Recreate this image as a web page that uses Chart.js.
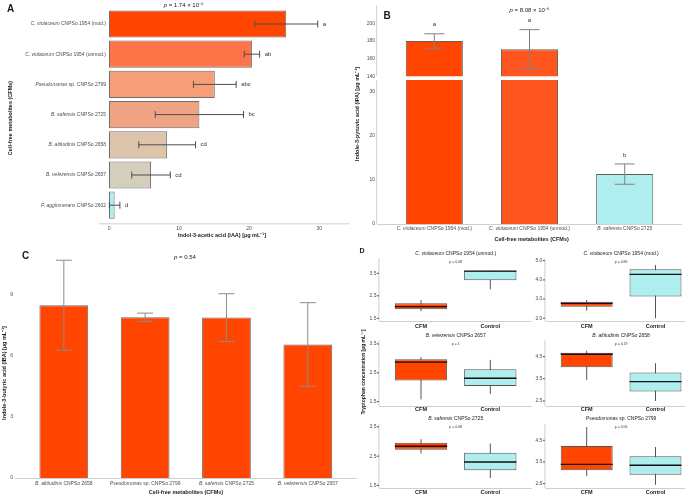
<!DOCTYPE html>
<html>
<head>
<meta charset="utf-8">
<script src="https://cdn.jsdelivr.net/npm/chart.js@4.4.0/dist/chart.umd.min.js"></script>
<style>
  body { margin: 0; background: #fff; }
  #fig { position: relative; width: 685px; height: 497px; overflow: hidden; background: #fff;
         font-family: "Liberation Sans", Arial, sans-serif; color: #1a1a1a; }
  #plots canvas { position: absolute; }
  .t { position: absolute; white-space: nowrap; transform: translate(-50%, -50%); line-height: 1; }
  .rot { transform: translate(-50%, -50%) rotate(-90deg); }
  .ttl { font-weight: bold; font-size: 5.5px; }
  .pv { font-size: 6px; }
  .lab { font-weight: bold; font-size: 10px; }
</style>
</head>
<body>
<div id="fig">
  <div id="plots"></div>

  <div class="t lab" style="left:10.5px; top:9px;">A</div>
  <div class="t lab" style="left:387px; top:15.5px;">B</div>
  <div class="t lab" style="left:25.5px; top:255.5px;">C</div>
  <div class="t lab" style="left:362px; top:250px; font-size:7px;">D</div>

  <div class="t pv" style="left:183.6px; top:5px;"><i>p</i> = 1.74 × 10⁻⁵</div>
  <div class="t pv" style="left:529.5px; top:10px;"><i>p</i> = 8.08 × 10⁻⁶</div>
  <div class="t pv" style="left:185px; top:257.3px;"><i>p</i> = 0.54</div>

  <div class="t ttl rot" style="left:10.8px; top:117.5px;">Cell-free metabolites (CFMs)</div>
  <div class="t ttl" style="left:222px; top:236px;">Indol-3-acetic acid (IAA) [µg mL⁻¹]</div>
  <div class="t ttl rot" style="left:358px; top:113.5px;">Indole-3-pyruvic acid (IPA) [µg mL⁻¹]</div>
  <div class="t ttl" style="left:531.7px; top:240px;">Cell-free metabolites (CFMs)</div>
  <div class="t ttl rot" style="left:5px; top:373px;">Indole-3-butyric acid (IBA) [µg mL⁻¹]</div>
  <div class="t ttl" style="left:186px; top:493.3px;">Cell-free metabolites (CFMs)</div>
  <div class="t ttl rot" style="left:363px; top:372px; font-size:5px;">Tryptophan concentration [µg mL⁻¹]</div>
</div>

<script>
// ---- data ----
// A: IAA
const aNames = ['C. violaceum CNPSo 1954 (mod.)', 'C. violaceum CNPSo 1954 (unmod.)', 'Pseudomonas sp. CNPSo 2799',
  'B. safensis CNPSo 2725', 'B. altitudinis CNPSo 2658', 'B. velezensis CNPSo 2657', 'P. agglomerans CNPSo 2602'];
const aMean = [25.3, 20.4, 15.1, 12.9, 8.3, 6.0, 0.8];
const aErr = [4.5, 1.1, 3.05, 6.3, 4.05, 2.75, 0.75];
const aLetters = ['a', 'ab', 'abc', 'bc', 'cd', 'cd', 'd'];
const aTicks = [0, 10, 20, 30];

// B: IPA (broken axis)
const bNames = ['C. violaceum CNPSo 1954 (mod.)', 'C. violaceum CNPSo 1954 (unmod.)', 'B. safensis CNPSo 2725'];
const bMean = [180.1, 170.8, 11.3];
const bErr = [8.2, 22.2, 2.3];
const bLetters = ['a', 'a', 'b'];
const bTicksHigh = [140, 160, 180, 200];
const bTicksLow = [0, 10, 20, 30];

// C: IBA
const cNames = ['B. altitudinis CNPSo 2658', 'Pseudomonas sp. CNPSo 2799', 'B. safensis CNPSo 2725', 'B. velezensis CNPSo 2657'];
const cMean = [8.47, 7.88, 7.86, 6.54];
const cErr = [2.2, 0.2, 1.17, 2.05];
const cTicks = [0, 3, 6, 9];

// D: tryptophan boxplots, [min, q1, median, q3, max]
const dTitles = ['C. violaceum CNPSo 1954 (unmod.)', 'C. violaceum CNPSo 1954 (mod.)', 'B. velezensis CNPSo 2657',
  'B. altitudinis CNPSo 2658', 'B. safensis CNPSo 2725', 'Pseudomonas sp. CNPSo 2799'];
const dGroups = ['CFM', 'Control'];
const dP = ['p = 0.08', 'p = 0.86', 'p = 1', 'p = 0.19', 'p = 0.08', 'p = 0.56'];
const dCfm = [
  [1.82, 1.90, 2.02, 2.17, 2.31],
  [2.40, 2.60, 2.78, 2.86, 2.95],
  [1.58, 2.23, 2.87, 2.97, 3.04],
  [3.45, 4.02, 4.61, 4.68, 4.77],
  [2.59, 2.72, 2.84, 2.96, 3.08],
  [2.85, 3.12, 3.39, 4.24, 5.11]
];
const dControl = [
  [2.79, 3.19, 3.60, 3.62, 3.62],
  [2.00, 3.13, 4.29, 4.55, 4.78],
  [1.77, 2.04, 2.31, 2.62, 2.95],
  [2.50, 2.92, 3.37, 3.78, 4.20],
  [1.75, 2.02, 2.30, 2.62, 2.93],
  [2.45, 2.91, 3.35, 3.76, 4.19]
];
const dTicks = [[1.5, 2.5, 3.5], [2.0, 3.0, 4.0, 5.0], [1.5, 2.5, 3.5], [2.5, 3.5, 4.5], [1.5, 2.5, 3.5], [2.5, 3.5, 4.5]];

// ---- styles ----
const aColors = ['#FF4500', '#FD7448', '#F59E78', '#EFA382', '#DDC4AA', '#D4CEBD', '#AEEEEE'];
const bColors = ['#FF4500', '#FF5620', '#AEEEEE'];
const ORANGE = '#FF4500', CYAN = '#AEEEEE';
const FONT = '"Liberation Sans", Arial, sans-serif';
const TICK = '#4d4d4d', AXIS = '#cfcfcf';

Chart.defaults.font.family = FONT;
Chart.defaults.color = TICK;
Chart.defaults.animation = false;
Chart.defaults.events = [];
Chart.defaults.plugins.legend.display = false;
Chart.defaults.plugins.tooltip.enabled = false;

function makeCanvas(x, y, w, h) {
  const c = document.createElement('canvas');
  c.width = w; c.height = h;
  c.style.left = x + 'px'; c.style.top = y + 'px';
  c.style.width = w + 'px'; c.style.height = h + 'px';
  document.getElementById('plots').appendChild(c);
  return c;
}
const fixedTicks = vals => s => { s.ticks = vals.map(v => ({ value: v })); };
const fixW = w => s => { s.width = w; };
const fixH = h => s => { s.height = h; };
// invisible tick marks used only as a gap between axis and labels
const gap = len => ({ display: false, drawTicks: true, tickLength: len });

// species part italic, strain part upright
function nameParts(name) {
  let k = name.indexOf(' sp.');
  if (k < 0) k = name.indexOf(' CNPSo');
  return [[name.slice(0, k), true], [name.slice(k), false]];
}
function drawName(ctx, name, x, y, align, size, color) {
  const parts = nameParts(name);
  const font = it => (it ? 'italic ' : '') + size + 'px ' + FONT;
  let w = 0;
  parts.forEach(p => { ctx.font = font(p[1]); w += ctx.measureText(p[0]).width; });
  let cx = align === 'right' ? x - w : align === 'center' ? x - w / 2 : x;
  ctx.save();
  ctx.fillStyle = color; ctx.textAlign = 'left'; ctx.textBaseline = 'middle';
  parts.forEach(p => { ctx.font = font(p[1]); ctx.fillText(p[0], cx, y); cx += ctx.measureText(p[0]).width; });
  ctx.restore();
}

// ggplot-like panel border: discrete axis expanded 0.6 of a step on each side
function panelAxes(opt) {
  return {
    id: 'panelAxes',
    afterDraw(chart) {
      const { ctx, chartArea: a } = chart;
      const n = chart.data.labels.length;
      let L = a.left, R = a.right, T = a.top, B = a.bottom;
      if (opt.index === 'x') { const s = (R - L) / n; L -= 0.1 * s; R += 0.1 * s; }
      else { const s = (B - T) / n; T -= 0.1 * s; B += 0.1 * s; }
      ctx.save();
      ctx.strokeStyle = AXIS; ctx.lineWidth = 1;
      ctx.beginPath();
      if (opt.bottom) { ctx.moveTo(L, B + 0.5); ctx.lineTo(R, B + 0.5); }
      if (opt.left) { ctx.moveTo(L - 0.5, T); ctx.lineTo(L - 0.5, B); }
      ctx.stroke();
      if (opt.ticks) {
        const ys = chart.scales.y;
        ctx.strokeStyle = TICK; ctx.beginPath();
        ys.ticks.forEach(t => { const y = ys.getPixelForValue(t.value); ctx.moveTo(L - 2.5, y); ctx.lineTo(L - 0.5, y); });
        ctx.stroke();
      }
      ctx.restore();
    }
  };
}

function errorBars(means, errs, opt) {
  return {
    id: 'errbars',
    afterDatasetsDraw(chart) {
      const { ctx, chartArea: a } = chart;
      const xs = chart.scales.x, ys = chart.scales.y;
      ctx.save();
      ctx.beginPath(); ctx.rect(a.left, a.top, a.right - a.left, a.bottom - a.top); ctx.clip();
      ctx.strokeStyle = opt.color; ctx.lineWidth = 1;
      means.forEach((m, i) => {
        ctx.beginPath();
        if (opt.horizontal) {
          const y = ys.getPixelForValue(i);
          const x1 = xs.getPixelForValue(m - errs[i]), x2 = xs.getPixelForValue(m + errs[i]);
          ctx.moveTo(x1, y); ctx.lineTo(x2, y);
          ctx.moveTo(x1, y - opt.cap / 2); ctx.lineTo(x1, y + opt.cap / 2);
          ctx.moveTo(x2, y - opt.cap / 2); ctx.lineTo(x2, y + opt.cap / 2);
        } else {
          const x = xs.getPixelForValue(i);
          const y1 = ys.getPixelForValue(m - errs[i]), y2 = ys.getPixelForValue(m + errs[i]);
          ctx.moveTo(x, y1); ctx.lineTo(x, y2);
          ctx.moveTo(x - opt.cap / 2, y1); ctx.lineTo(x + opt.cap / 2, y1);
          ctx.moveTo(x - opt.cap / 2, y2); ctx.lineTo(x + opt.cap / 2, y2);
        }
        ctx.stroke();
      });
      ctx.restore();
      if (!opt.letters) return;
      ctx.save();
      ctx.fillStyle = '#333'; ctx.font = '6px ' + FONT;
      opt.letters.forEach((l, i) => {
        const top = means[i] + errs[i];
        if (opt.horizontal) {
          ctx.textAlign = 'left'; ctx.textBaseline = 'middle';
          ctx.fillText(l, xs.getPixelForValue(top) + 5, ys.getPixelForValue(i));
        } else {
          const y = ys.getPixelForValue(top) - 9;
          if (y < 0 || y > chart.height) return;
          ctx.textAlign = 'center'; ctx.textBaseline = 'middle';
          ctx.fillText(l, xs.getPixelForValue(i), y);
        }
      });
      ctx.restore();
    }
  };
}

function nameLabels(names, axis, offset) {
  return {
    id: 'names',
    afterDraw(chart) {
      const a = chart.chartArea;
      names.forEach((n, i) => {
        if (axis === 'y') {
          drawName(chart.ctx, n, chart.scales.x.getPixelForValue(0) - offset, chart.scales.y.getPixelForValue(i), 'right', 5, TICK);
        } else {
          drawName(chart.ctx, n, chart.scales.x.getPixelForValue(i), a.bottom + offset, 'center', 5, TICK);
        }
      });
    }
  };
}

// ---- A ----
new Chart(makeCanvas(0, 0, 352, 245), {
  type: 'bar',
  data: { labels: aNames, datasets: [{
    data: aMean,
    backgroundColor: aColors, borderColor: '#6e6e6e', borderWidth: 1, borderSkipped: false,
    barPercentage: 0.9, categoryPercentage: 1
  }] },
  options: {
    responsive: false, devicePixelRatio: 1, indexAxis: 'y',
    layout: { padding: { top: 8.9, right: 2, left: 0, bottom: 0 } },
    scales: {
      x: { type: 'linear', min: -1.43, max: 34.4, afterBuildTicks: fixedTicks(aTicks), afterFit: fixH(24.7),
           grid: gap(5.2), border: { display: false },
           ticks: { font: { size: 5 }, padding: 0, color: TICK } },
      y: { afterFit: fixW(99), grid: gap(0), border: { display: false }, ticks: { display: false } }
    }
  },
  plugins: [panelAxes({ index: 'y', bottom: true }),
            errorBars(aMean, aErr, { horizontal: true, cap: 7, color: '#4d4d4d', letters: aLetters }),
            nameLabels(aNames, 'y', 3)]
});

// ---- B (upper segment) ----
const bDataset = () => ({
  data: bMean, backgroundColor: bColors, borderColor: '#5e5e5e', borderWidth: 1, borderSkipped: 'start',
  barPercentage: 0.6, categoryPercentage: 1
});
new Chart(makeCanvas(340, 0, 345, 80), {
  type: 'bar',
  data: { labels: bNames, datasets: [bDataset()] },
  options: {
    responsive: false, devicePixelRatio: 1,
    layout: { padding: { top: 5, right: 12.7, left: 0, bottom: 3.7 } },
    scales: {
      x: { display: false },
      y: { min: 140, max: 221, afterBuildTicks: fixedTicks(bTicksHigh), afterFit: fixW(46.7),
           grid: gap(11.7), border: { display: false },
           ticks: { font: { size: 5 }, padding: 0, color: TICK } }
    }
  },
  plugins: [panelAxes({ index: 'x', left: true }),
            errorBars(bMean, bErr, { cap: 20, color: '#808080', letters: bLetters })]
});

// ---- B (lower segment) ----
new Chart(makeCanvas(340, 76, 345, 169), {
  type: 'bar',
  data: { labels: bNames, datasets: [bDataset()] },
  options: {
    responsive: false, devicePixelRatio: 1,
    layout: { padding: { top: 4, right: 12.7, left: 0, bottom: 0 } },
    scales: {
      x: { afterFit: fixH(21), grid: gap(0), border: { display: false }, ticks: { display: false } },
      y: { min: 0, max: 32.6, afterBuildTicks: fixedTicks(bTicksLow), afterFit: fixW(46.7),
           grid: gap(11.7), border: { display: false },
           ticks: { font: { size: 5 }, padding: 0, color: TICK } }
    }
  },
  plugins: [panelAxes({ index: 'x', left: true, bottom: true }),
            errorBars(bMean, bErr, { cap: 20, color: '#808080', letters: bLetters }),
            nameLabels(bNames, 'x', 5)]
});

// ---- C ----
new Chart(makeCanvas(0, 250, 358, 247), {
  type: 'bar',
  data: { labels: cNames, datasets: [{
    data: cMean, backgroundColor: ORANGE, borderColor: '#6e6e6e', borderWidth: 1, borderSkipped: 'start',
    barPercentage: 0.6, categoryPercentage: 1
  }] },
  options: {
    responsive: false, devicePixelRatio: 1,
    layout: { padding: { top: 3.5, right: 9.55, left: 0, bottom: 0 } },
    scales: {
      x: { afterFit: fixH(19), grid: gap(0), border: { display: false }, ticks: { display: false } },
      y: { min: 0, max: 11.0, afterBuildTicks: fixedTicks(cTicks), afterFit: fixW(23.15),
           grid: gap(10), border: { display: false },
           ticks: { font: { size: 5 }, padding: 0, color: TICK } }
    }
  },
  plugins: [panelAxes({ index: 'x', bottom: true }),
            errorBars(cMean, cErr, { cap: 16, color: '#8c8c8c' }), nameLabels(cNames, 'x', 5.3)]
});

// ---- D ----
const dCells = [
  { x: 340, y: 247, w: 193, h: 84, axisW: 46.35, padTop: 11.3, axisH: 10, labPad: 2,   padRight: 8.05, ymin: 1.38, ymax: 4.17 },
  { x: 533, y: 247, w: 160, h: 84, axisW: 19.3,  padTop: 11.3, axisH: 10, labPad: 2,   padRight: 3.1,  ymin: 1.86, ymax: 5.125 },
  { x: 340, y: 331, w: 193, h: 83, axisW: 46.35, padTop: 9.5,  axisH: 8,  labPad: 0.5, padRight: 8.05, ymin: 1.35, ymax: 3.62 },
  { x: 533, y: 331, w: 160, h: 83, axisW: 19.3,  padTop: 9.5,  axisH: 8,  labPad: 0.5, padRight: 3.1,  ymin: 2.27, ymax: 5.23 },
  { x: 340, y: 414, w: 193, h: 83, axisW: 46.35, padTop: 10,   axisH: 9,  labPad: 1.5, padRight: 8.05, ymin: 1.41, ymax: 3.6 },
  { x: 533, y: 414, w: 160, h: 83, axisW: 19.3,  padTop: 10,   axisH: 9,  labPad: 1.5, padRight: 3.1,  ymin: 2.30, ymax: 5.25 }
];

function boxPlot(k) {
  const rows = [dCfm[k], dControl[k]];
  return {
    id: 'box',
    beforeDatasetsDraw(chart) {
      const { ctx } = chart, xs = chart.scales.x, ys = chart.scales.y;
      ctx.save(); ctx.strokeStyle = '#555'; ctx.lineWidth = 1;
      rows.forEach((r, i) => {
        const x = xs.getPixelForValue(i);
        ctx.beginPath(); ctx.moveTo(x, ys.getPixelForValue(r[0])); ctx.lineTo(x, ys.getPixelForValue(r[4])); ctx.stroke();
      });
      ctx.restore();
    },
    afterDatasetsDraw(chart) {
      const { ctx } = chart, ys = chart.scales.y;
      const els = chart.getDatasetMeta(0).data;
      ctx.save(); ctx.strokeStyle = '#111'; ctx.lineWidth = 1.4;
      rows.forEach((r, i) => {
        const el = els[i], y = ys.getPixelForValue(r[2]);
        ctx.beginPath(); ctx.moveTo(el.x - el.width / 2, y); ctx.lineTo(el.x + el.width / 2, y); ctx.stroke();
      });
      ctx.restore();
    },
    afterDraw(chart) {
      const { ctx, chartArea: a } = chart;
      const cx = chart.scales.x.getPixelForValue(0.5);
      drawName(ctx, dTitles[k], cx, a.top - 5, 'center', 5, '#1a1a1a');
      ctx.save();
      ctx.fillStyle = '#333'; ctx.font = '3.5px ' + FONT; ctx.textAlign = 'center'; ctx.textBaseline = 'middle';
      ctx.fillText(dP[k], cx, a.top + 3.5);
      ctx.restore();
    }
  };
}

dCells.forEach((c, k) => {
  new Chart(makeCanvas(c.x, c.y, c.w, c.h), {
    type: 'bar',
    data: { labels: dGroups, datasets: [{
      data: [dCfm[k], dControl[k]].map(r => [r[1], r[3]]),
      backgroundColor: [ORANGE, CYAN], borderColor: '#555', borderWidth: 1, borderSkipped: false,
      barPercentage: 0.755, categoryPercentage: 1
    }] },
    options: {
      responsive: false, devicePixelRatio: 1,
      layout: { padding: { top: c.padTop, right: c.padRight, left: 0, bottom: 0 } },
      scales: {
        x: { afterFit: fixH(c.axisH), grid: gap(0), border: { display: false },
             ticks: { font: { size: 5.5, weight: 'bold' }, color: '#1a1a1a', padding: c.labPad } },
        y: { min: c.ymin, max: c.ymax, afterBuildTicks: fixedTicks(dTicks[k]), afterFit: fixW(c.axisW),
             grid: gap(9.9), border: { display: false },
             ticks: { font: { size: 5 }, padding: 0, color: TICK, callback: v => v.toFixed(1) } }
      }
    },
    plugins: [panelAxes({ index: 'x', left: true, bottom: true, ticks: true }), boxPlot(k)]
  });
});
</script>
</body>
</html>
